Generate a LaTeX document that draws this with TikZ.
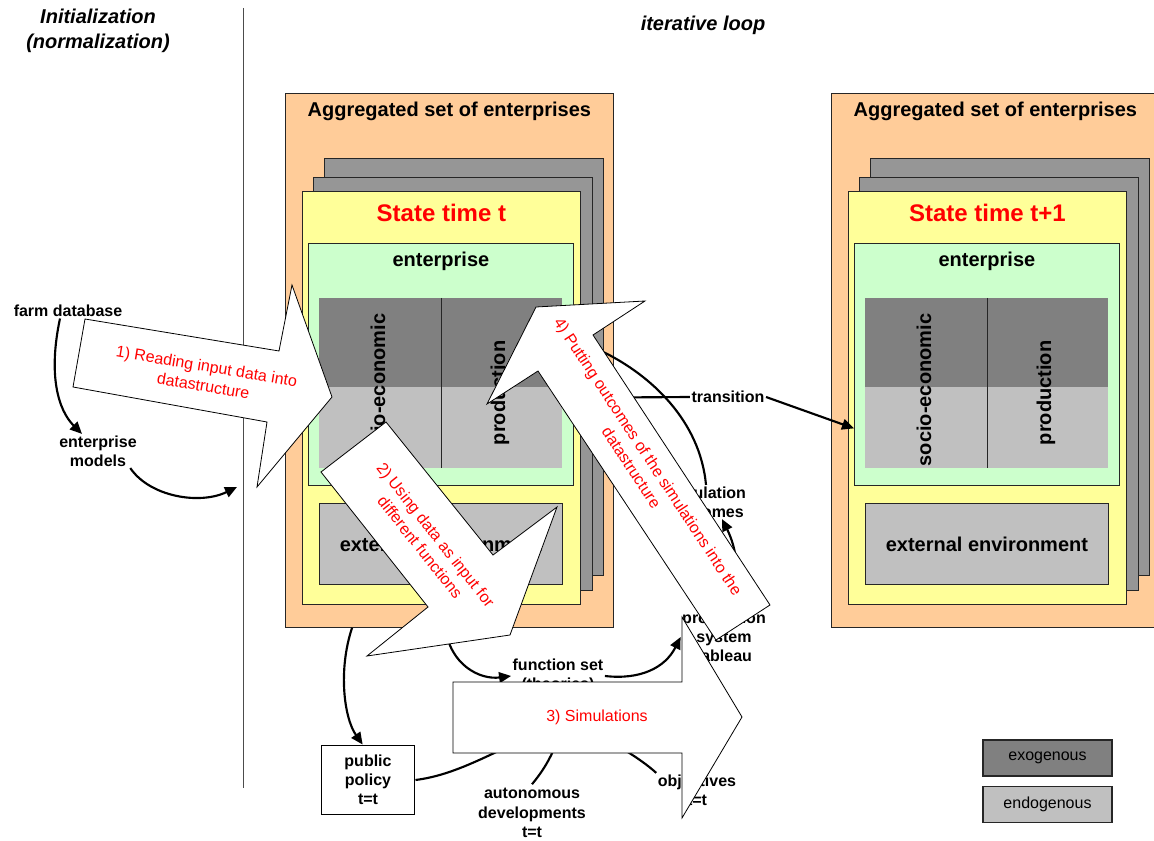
\documentclass[tikz,border=0pt]{standalone}
\usepackage{fontspec}
\setmainfont{Liberation Sans}
\usetikzlibrary{arrows.meta}

\definecolor{aggcol}{HTML}{FFCC99}
\definecolor{statecol}{HTML}{FFFF99}
\definecolor{entcol}{HTML}{CCFFCC}
\definecolor{stackcol}{HTML}{969696}
\definecolor{exocol}{HTML}{808080}
\definecolor{endocol}{HTML}{C0C0C0}

\tikzset{
  pxbox/.style 2 args={rectangle, inner sep=0pt, anchor=north west,
    minimum width=#1*0.75pt, minimum height=#2*0.75pt},
  panel/.style={draw=black!85, line width=0.6pt},
  lbl/.style={font=\fontsize{12}{14.4}\selectfont\bfseries, align=center, inner sep=1pt},
  bigtitle/.style={font=\fontsize{15}{18}\selectfont\bfseries, align=center, inner sep=1pt},
  flow/.style={line width=1.6pt, -{Triangle[length=9pt,width=8pt]}},
  feed/.style={line width=1.6pt},
  blockarrow/.style={draw=black, fill=white, line width=0.6pt, line join=miter},
  steptext/.style={text=red, font=\fontsize{12}{15}\selectfont, align=center, inner sep=0pt},
  keybox/.style={draw=black!85, line width=0.8pt, minimum width=96.75pt, minimum height=27pt,
    inner sep=0pt, font=\fontsize{12}{14.4}\selectfont},
}

\begin{document}
\begin{tikzpicture}[x=0.75pt, y=-0.75pt]
\useasboundingbox (0,0) rectangle (1154,841);

% headers
\node[bigtitle, font=\fontsize{15}{19}\selectfont\bfseries\itshape] (init) at (98,31) {Initialization\\(normalization)};
\node[bigtitle, font=\fontsize{15}{19}\selectfont\bfseries\itshape] (loop) at (703,25) {iterative loop};
\draw[black!70, line width=0.6pt] (243,8) -- (243,788);

% state at t and at t+1
\foreach \dx/\sfx/\stname in {0/a/State time t, 546/b/State time t+1} {
  \begin{scope}[shift={(\dx,0)}]
    \node[pxbox={328}{534}, panel, fill=aggcol] (agg\sfx) at (285,93) {};
    \node[bigtitle] at ([yshift=-14pt]agg\sfx.north) {Aggregated set of enterprises};
    \node[pxbox={279}{417}, panel, fill=stackcol] (back\sfx) at (324,158) {};
    \node[pxbox={279}{413}, panel, fill=stackcol] (mid\sfx) at (313,177) {};
    \node[pxbox={278}{413}, panel, fill=statecol] (state\sfx) at (302,191) {};
    \node[bigtitle, text=red, font=\fontsize{18}{22}\selectfont\bfseries] at ([yshift=-16.5pt]state\sfx.north) {\stname};
    \node[pxbox={265}{242}, panel, fill=entcol] (ent\sfx) at (308,243) {};
    \node[bigtitle] at ([yshift=-14pt]ent\sfx.north) {enterprise};
    \node[pxbox={243}{89}, fill=exocol] (exo\sfx) at (319,298) {};
    \node[pxbox={243}{81}, fill=endocol] (endo\sfx) at (319,387) {};
    \draw[black!85, line width=0.6pt] (441,298) -- (441,468);
    \node[bigtitle, rotate=90] at (378,390) {socio-economic};
    \node[bigtitle, rotate=90] at (500,393) {production};
    \node[pxbox={243}{81}, panel, fill=endocol, font=\fontsize{15}{18}\selectfont\bfseries] (ext\sfx) at (319,503) {external environment};
  \end{scope}
}

% labels
\node[lbl] (farmdb) at (68,311) {farm database};
\node[lbl] (models) at (98,451) {enterprise\\models};
\coordinate (initin) at (237,487);
\node[lbl, draw, line width=1.2pt, minimum width=70pt, minimum height=52pt] (policy) at (368,780) {public\\policy\\t=t};
\node[lbl] (funcset) at (558,676) {function set\\(theories)};
\node[lbl] (tableau) at (724,637) {production\\system\\tableau};
\node[lbl] (simout) at (706,502) {simulation\\outcomes};
\node[lbl] (transit) at (728,397) {transition};
\node[lbl, inner sep=3pt] (autodev) at (532,813) {autonomous\\developments\\t=t};
\node[lbl] (objectives) at (697,790) {objectives\\t=t};
\coordinate (simcore) at (565,718);

% connectors
\draw[flow] ([xshift=-6pt]farmdb.south) .. controls (48,375) and (58,410) .. ([xshift=-12pt]models.north);
\draw[flow] ([xshift=-6pt]models.south east) .. controls (150,497) and (200,505) .. (initin);
\draw[flow] ([xshift=-73pt]agga.south) .. controls (338,670) and (344,718) .. ([xshift=-4pt]policy.north);
\draw[flow] ([xshift=-3pt]agga.south) .. controls (450,665) and (480,680) .. (funcset.west);
\draw[flow] (funcset.east) .. controls (640,680) and (665,668) .. (tableau.west);
\draw[feed] (policy.east) .. controls (455,775) and (490,755) .. (simcore);
\draw[feed] (autodev.north) .. controls (548,765) and (556,748) .. (simcore);
\draw[feed] (objectives.north west) .. controls (640,758) and (610,740) .. (simcore);
\draw[feed] ([yshift=-23pt]backa.east) -- (transit.west);
\draw[flow] (transit.east) -- ([yshift=-48pt]entb.west);
\draw[feed] (simout.north) .. controls (700,420) and (650,375) .. ([yshift=11pt]backa.east);
\draw[flow] (tableau.north) .. controls (745,580) and (735,545) .. ([xshift=12pt]simout.south);

% block arrows
\draw[blockarrow] (85,319) -- (279,351) -- (292,285) -- (332,397) -- (257,487) -- (267,422) -- (73,387) -- cycle;
\node[steptext, rotate=-9.5] (step1) at (205,376) {1) Reading input data into\\datastructure};
\draw[blockarrow] (386,422) -- (493,555) -- (557,507) -- (510,635) -- (367,656) -- (428,607) -- (321,472) -- cycle;
\node[steptext, rotate=-51.6] (step2) at (428,541) {2) Using data as input for\\different functions};
\draw[blockarrow] (453,682) -- (682,682) -- (682,617) -- (742,717) -- (682,818) -- (682,753) -- (453,753) -- cycle;
\node[steptext] (step3) at (597,717) {3) Simulations};
\draw[blockarrow] (770,605) -- (593,335) -- (645,301) -- (536,307) -- (487,404) -- (538,371) -- (716,640) -- cycle;
\node[steptext, rotate=-56.7] (step4) at (640,462) {4) Putting outcomes of the simulations into the\\datastructure};

% legend
\node[keybox, fill=exocol] (exokey) at (1047.5,758) {exogenous};
\node[keybox, fill=endocol] (endokey) at (1047.5,804.5) {endogenous};
\end{tikzpicture}
\end{document}
